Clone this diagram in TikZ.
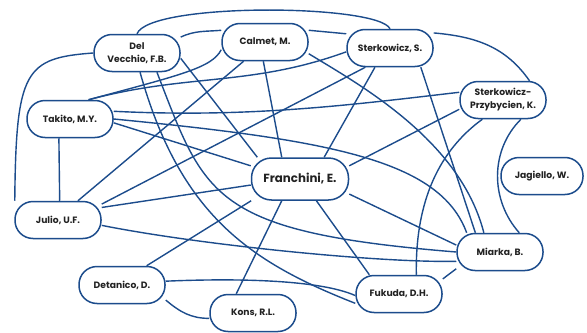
\documentclass[tikz,border=0pt]{standalone}
\usepackage{fontspec}
\setmainfont{Poppins}
\usetikzlibrary{backgrounds}
\definecolor{navy}{RGB}{28,76,140}
\definecolor{txt}{RGB}{34,34,34}
\begin{document}
\begin{tikzpicture}[x=1pt,y=-1pt,
  au/.style={draw=navy,line width=1.5pt,fill=white,rounded corners=18pt,minimum width=86pt,minimum height=37pt,inner sep=0pt,align=center,font=\fontsize{9.2}{13}\selectfont\bfseries,text=txt},
  big/.style={au,minimum width=97pt,minimum height=42pt,rounded corners=20pt,font=\fontsize{11.8}{14}\selectfont\bfseries},
  lk/.style={draw=navy,line width=1.4pt}]
\node[au] (dv) at (137,53) {Del\\Vecchio, F.B.};
\node[au] (cm) at (265,42) {Calmet, M.};
\node[au] (ss) at (390,48) {Sterkowicz, S.};
\node[au] (sp) at (503,100) {Sterkowicz-\\Przybycien, K.};
\node[au] (tk) at (70,119) {Takito, M.Y.};
\node[big] (fr) at (300,179) {Franchini, E.};
\node[au,minimum width=82pt] (jg) at (542,176) {Jagiello, W.};
\node[au] (ju) at (58,220) {Julio, U.F.};
\node[au] (mi) at (500,252) {Miarka, B.};
\node[au] (de) at (122,285) {Detanico, D.};
\node[au] (ko) at (253,313) {Kons, R.L.};
\node[au] (fu) at (399,294) {Fukuda, D.H.};
\begin{scope}[on background layer]
\fill[white] (0,0) rectangle (587,326);
\useasboundingbox (0,0) rectangle (587,326);
\draw[lk] (dv.north) .. controls (150,2) and (378,4) .. (ss.north);
\draw[lk] (dv.west) .. controls (25,58) and (16,70) .. (ju.156);
\draw[lk] (dv.20) to[out=25,in=185] (cm.165);
\draw[lk] (dv.-7) -- (fr.153);
\draw[lk] (dv.-44) .. controls (205,196) and (210,232) .. (mi.180);
\draw[lk] (dv.-81) .. controls (180,215) and (250,262) .. (fu.192);
\draw[lk] (cm.15) -- (ss.162);
\draw[lk] (cm.190) .. controls (212,68) and (180,75) .. (tk.46);
\draw[lk] (cm.265) -- (fr.130);
\draw[lk] (cm.-15) .. controls (360,85) and (460,140) .. (mi.130);
\draw[lk] (cm.222) -- (ju.44);
\draw[lk] (ss.19) to[out=-5,in=125] (sp.36);
\draw[lk] (ss.232) -- (fr.42);
\draw[lk] (ss.-32) -- (mi.142);
\draw[lk] (tk.46) to[out=15,in=200] (ss.185);
\draw[lk] (tk.10) .. controls (250,118) and (350,105) .. (sp.170);
\draw[lk] (tk.0) .. controls (330,140) and (440,160) .. (mi.150);
\draw[lk] (tk.-5) -- (fr.165);
\draw[lk] (tk.-120) -- (ju.85);
\draw[lk] (ju.20) -- (ss.218);
\draw[lk] (ju.16) -- (fr.187);
\draw[lk] (ju.-7) .. controls (200,245) and (380,263) .. (mi.192);
\draw[lk] (fr.-17) -- (mi.171);
\draw[lk] (fr.204) -- (de.38);
\draw[lk] (fr.230) -- (ko.131);
\draw[lk] (fr.-53) -- (fu.147);
\draw[lk] (fr.15) -- (sp.192);
\draw[lk] (de.5) .. controls (240,278) and (320,280) .. (fu.182);
\draw[lk] (de.-19) to[out=-40,in=180] (ko.187);
\draw[lk] (fu.19) -- (mi.201);
\draw[lk] (fu.48) .. controls (415,200) and (440,150) .. (sp.223);
\draw[lk] (sp.-47) .. controls (490,150) and (490,200) .. (mi.45);
\end{scope}
\end{tikzpicture}
\end{document}
